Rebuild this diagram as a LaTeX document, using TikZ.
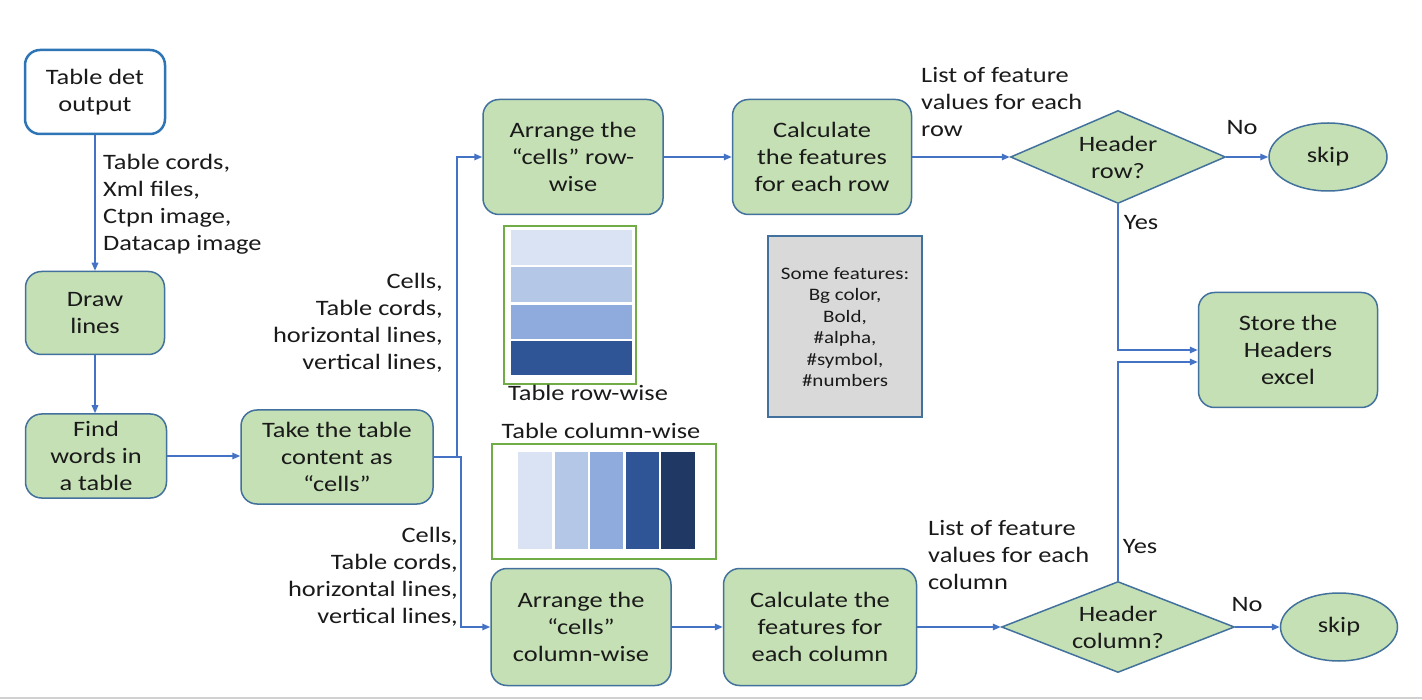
\documentclass[tikz,border=0pt]{standalone}
\usepackage{fontspec}
\setmainfont{Carlito}[FakeStretch=1.2]
\usetikzlibrary{arrows.meta,shapes.geometric}
\definecolor{gfill}{HTML}{C5E0B4}
\definecolor{bline}{HTML}{41719C}
\definecolor{topline}{HTML}{2E75B6}
\definecolor{arrc}{HTML}{4472C4}
\definecolor{ca}{HTML}{DAE3F3}
\definecolor{cb}{HTML}{B4C7E7}
\definecolor{cc}{HTML}{8FAADC}
\definecolor{cd}{HTML}{2F5597}
\definecolor{ce}{HTML}{203864}
\definecolor{tframe}{HTML}{70AD47}
\definecolor{gbox}{HTML}{D9D9D9}
\definecolor{txt}{HTML}{1A1A1A}
\tikzset{
  base/.style={font=\fontsize{22}{27}\selectfont, text=txt, align=center, inner sep=0pt},
  proc/.style={base, draw=bline, fill=gfill, line width=1.5pt, rounded corners=16pt},
  startbox/.style={base, draw=topline, fill=white, line width=2.5pt, rounded corners=15pt},
  decis/.style={base, diamond, shape aspect=2.3, draw=bline, fill=gfill, line width=1.5pt},
  term/.style={base, ellipse, draw=bline, fill=gfill, line width=1.5pt},
  lbl/.style={font=\fontsize{22}{27}\selectfont, text=txt, inner sep=0pt},
  arr/.style={draw=arrc, line width=1.5pt, -{Triangle[length=8pt,width=6.5pt]}},
}
\begin{document}
\begin{tikzpicture}[x=1pt,y=-1pt]
\path[use as bounding box] (0,0) rectangle (1422,700);
\fill[white] (0,0) rectangle (1422,700);
\draw[draw=black!18, line width=2pt] (0,698) -- (1422,698);

% process nodes
\node[startbox, minimum width=140pt, minimum height=84pt] (tdo) at (95,92) {Table det\\output};
\node[proc, minimum width=139pt, minimum height=83pt] (drw) at (95,313) {Draw\\lines};
\node[proc, minimum width=141pt, minimum height=84pt] (find) at (96,456) {Find\\words in\\a table};
\node[proc, minimum width=192pt, minimum height=94pt] (take) at (337,457) {Take the table\\content as\\“cells”};
\node[proc, minimum width=180pt, minimum height=115pt] (arow) at (573,157) {Arrange the\\“cells” row-\\wise};
\node[proc, minimum width=179pt, minimum height=115pt] (crow) at (822,157) {Calculate\\the features\\for each row};
\node[proc, minimum width=180pt, minimum height=117pt] (acol) at (581,627) {Arrange the\\“cells”\\column-wise};
\node[proc, minimum width=193pt, minimum height=117pt] (ccol) at (820,627) {Calculate the\\features for\\each column};
\node[proc, minimum width=179pt, minimum height=115pt] (store) at (1288,350) {Store the\\Headers\\excel};

\node[decis, minimum width=215pt, minimum height=93pt] (d1) at (1118,157) {Header\\row?};
\node[decis, minimum width=233pt, minimum height=91pt] (d2) at (1118,627) {Header\\column?};
\node[term, minimum width=118pt, minimum height=68pt] (s1) at (1328,157) {skip};
\node[term, minimum width=117pt, minimum height=68pt] (s2) at (1339,627) {skip};

% feature box
\node[draw=bline, fill=gbox, line width=2pt, minimum width=154pt, minimum height=181pt,
      font=\fontsize{17.5}{21.4}\selectfont, text=txt, align=center, inner sep=0pt] (feat) at (845,327)
  {Some features:\\Bg color,\\Bold,\\\#alpha,\\\#symbol,\\\#numbers};

% row-wise table picture
\draw[draw=tframe, line width=1.5pt] (504,226) rectangle (636,384);
\fill[ca] (511,230) rectangle (632,265);
\fill[cb] (511,267) rectangle (632,302);
\fill[cc] (511,305) rectangle (632,339);
\fill[cd] (511,341) rectangle (632,375);
\node[lbl] (trw) at (588,393) {Table row-wise};

% column-wise table picture
\draw[draw=tframe, line width=1.5pt] (492,444) rectangle (716,559);
\fill[ca] (518,452) rectangle (552,549);
\fill[cb] (555,452) rectangle (588,549);
\fill[cc] (590,452) rectangle (623,549);
\fill[cd] (626,452) rectangle (659,549);
\fill[ce] (661,452) rectangle (695,549);
\node[lbl] (tcw) at (601,431) {Table column-wise};

% labels
\node[lbl, align=left, anchor=west] (l1) at (103,204) {Table cords,\\Xml files,\\Ctpn image,\\Datacap image};
\node[lbl, align=right, anchor=east] (l2) at (443,323) {Cells,\\Table cords,\\horizontal lines,\\vertical lines,};
\node[lbl, align=right, anchor=east] (l3) at (458,577) {Cells,\\Table cords,\\horizontal lines,\\vertical lines,};
\node[lbl, align=left, anchor=west] (l4) at (921,102) {List of feature\\values for each\\row};
\node[lbl, align=left, anchor=west] (l5) at (928,555) {List of feature\\values for each\\column};
\node[lbl] (no1) at (1242,128) {No};
\node[lbl] (no2) at (1247,605) {No};
\node[lbl] (yes1) at (1141,223) {Yes};
\node[lbl] (yes2) at (1140,547) {Yes};

% connectors
\coordinate (ju) at (457,457);
\coordinate (jd) at (461,457);
\draw[arr] (tdo.south) -- (drw.north);
\draw[arr] (drw.south) -- (drw.south |- find.north);
\draw[arr] (find.east) -- (find.east -| take.west);
\draw[arr] (take.east) -- (ju) |- (arow.west);
\draw[arr] (take.east) -- (jd) |- (acol.west);
\draw[arr] (arow.east) -- (crow.west);
\draw[arr] (crow.east) -- (d1.west);
\draw[arr] (d1.east) -- (s1.west);
\draw[arr] (d1.south) |- (store.west);
\draw[arr] (d2.north) |- ([yshift=-12pt]store.west);
\draw[arr] (acol.east) -- (ccol.west);
\draw[arr] (ccol.east) -- (d2.west);
\draw[arr] (d2.east) -- (s2.west);
\end{tikzpicture}
\end{document}
